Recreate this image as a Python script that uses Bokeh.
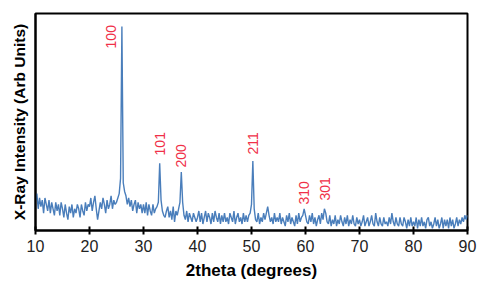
import math
from bokeh.plotting import figure
from bokeh.models import ColumnDataSource, FixedTicker, Range1d
from bokeh.core.properties import value
from bokeh.embed import file_html
from bokeh.resources import INLINE

# scan: 10.00 to 90.00 degrees, step 0.25
scan_start = 10.0
scan_step = 0.25
intensity = [
    14, 17, 10, 15, 11, 14, 8, 15, 12, 9, 14, 8, 13, 10, 7, 13, 9, 12, 7, 13,
    10, 6, 12, 8, 5, 11, 8, 12, 6, 10, 8, 12, 10, 6, 12, 9, 7, 13, 9, 12,
    11, 15, 9, 13, 16, 10, 5, 9, 13, 10, 15, 12, 8, 14, 10, 12, 16, 10, 14, 12,
    13, 15, 17, 24, 94, 22, 18, 16, 12, 15, 11, 14, 9, 12, 14, 8, 13, 10, 12, 8,
    12, 8, 13, 7, 12, 9, 7, 12, 8, 10, 11, 13, 31, 14, 9, 7, 6, 9, 11, 6,
    9, 5, 11, 4, 9, 7, 10, 13, 27, 13, 7, 5, 9, 4, 8, 6, 4, 8, 6, 4,
    6, 9, 4, 8, 3, 6, 9, 4, 8, 6, 3, 8, 4, 9, 6, 4, 8, 3, 7, 4,
    8, 4, 6, 3, 8, 6, 4, 9, 3, 6, 8, 4, 6, 3, 8, 4, 7, 4, 7, 8,
    12, 32, 10, 5, 4, 8, 3, 6, 4, 8, 5, 8, 11, 7, 4, 6, 3, 8, 4, 6,
    4, 8, 3, 6, 4, 2, 7, 4, 8, 3, 6, 4, 2, 7, 3, 8, 4, 6, 7, 10,
    7, 4, 3, 7, 4, 8, 3, 6, 2, 5, 7, 3, 8, 5, 10, 8, 4, 3, 7, 2,
    5, 3, 7, 2, 5, 3, 7, 4, 2, 6, 3, 7, 2, 5, 3, 7, 3, 2, 6, 3,
    5, 2, 4, 7, 2, 4, 6, 2, 4, 7, 3, 2, 8, 4, 2, 6, 3, 2, 6, 3,
    4, 2, 6, 3, 8, 4, 2, 6, 3, 2, 6, 3, 2, 6, 4, 1, 5, 2, 6, 2,
    4, 2, 6, 1, 5, 2, 6, 2, 4, 1, 5, 6, 2, 4, 1, 3, 6, 2, 5, 1,
    3, 6, 1, 5, 2, 5, 1, 6, 2, 5, 1, 3, 6, 2, 5, 3, 6, 4, 7, 5,
    7,
]
two_theta = [scan_start + i * scan_step for i in range(len(intensity))]

peak_labels = ["100", "101", "200", "211", "310", "301"]
label_x = [23.9, 33.0, 36.9, 50.2, 59.7, 63.6]
label_y = [83.9, 34.6, 29.0, 35.0, 12.0, 13.8]

x_ticks = [10, 20, 30, 40, 50, 60, 70, 80, 90]

p = figure(width=480, height=292, output_backend="svg", toolbar_location=None,
           x_range=Range1d(10, 90), y_range=Range1d(0, 100),
           min_border_left=35, min_border_right=13, min_border_top=13, min_border_bottom=62)

p.line(two_theta, intensity, line_color="#4a7ebb", line_width=1.4)

src = ColumnDataSource(dict(x=label_x, y=label_y, t=peak_labels))
p.text(x="x", y="y", text="t", source=src, angle=math.pi / 2,
       text_align="left", text_baseline="middle", text_color="#f03048",
       text_font=value("Liberation Sans"), text_font_size="14px")

p.grid.visible = False
p.outline_line_color = "black"
p.outline_line_width = 2

xa = p.xaxis[0]
xa.ticker = FixedTicker(ticks=x_ticks)
xa.axis_line_color = "black"
xa.axis_line_width = 2
xa.major_tick_in = 4
xa.major_tick_out = 4
xa.major_tick_line_width = 2
xa.minor_tick_line_color = None
xa.major_label_text_font = "Liberation Sans"
xa.major_label_text_font_size = "16px"
xa.major_label_text_color = "#222222"
xa.major_label_standoff = 5
xa.axis_label = "2theta (degrees)"
xa.axis_label_text_font = "Liberation Sans"
xa.axis_label_text_font_style = "bold"
xa.axis_label_text_font_size = "17px"
xa.axis_label_text_color = "black"
xa.axis_label_standoff = 6

ya = p.yaxis[0]
ya.ticker = FixedTicker(ticks=[])
ya.axis_line_color = "black"
ya.axis_line_width = 2
ya.major_tick_in = 0
ya.major_tick_out = 0
ya.minor_tick_line_color = None
ya.major_label_standoff = 0
ya.axis_label = "X-Ray Intensity (Arb Units)"
ya.axis_label_text_font = "Liberation Sans"
ya.axis_label_text_font_style = "bold"
ya.axis_label_text_font_size = "15.5px"
ya.axis_label_text_color = "black"
ya.axis_label_standoff = 8

open("out.html", "w").write(file_html(p, INLINE))
